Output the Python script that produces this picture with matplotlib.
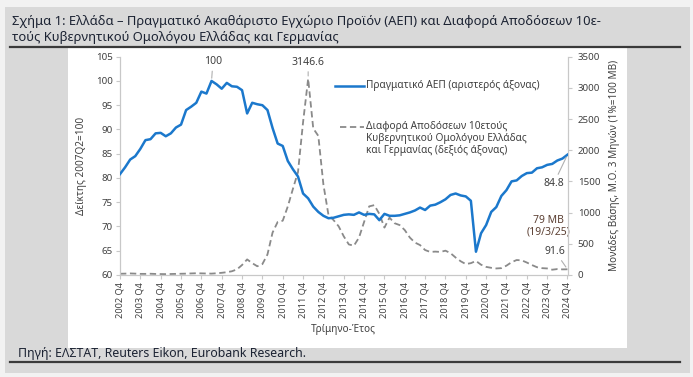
import numpy as np
import matplotlib
matplotlib.use("Agg")
import matplotlib.pyplot as plt
from matplotlib.patches import Rectangle
from matplotlib.lines import Line2D

plt.rcParams['font.family'] = ['Noto Sans', 'DejaVu Sans']

## data: quarterly, 2002Q4 .. 2024Q4
years = list(range(2002, 2025))
tick_labels = [f"{y} Q4" for y in years]

gdp = [80.8, 82.2, 83.8, 84.5, 86.0, 87.8, 88.0, 89.2, 89.3, 88.6,
       89.2, 90.4, 91.0, 94.0, 94.7, 95.5, 97.8, 97.4, 100.0, 99.3,
       98.4, 99.6, 98.9, 98.8, 98.1, 93.3, 95.5, 95.2, 95.0, 94.0,
       90.3, 87.1, 86.6, 83.5, 81.8, 80.3, 76.8, 75.8, 74.1, 73.0,
       72.2, 71.7, 71.8, 72.1, 72.4, 72.5, 72.4, 72.9, 72.4, 72.6,
       72.5, 71.3, 72.6, 72.2, 72.2, 72.3, 72.6, 72.9, 73.3, 73.9,
       73.4, 74.3, 74.5, 75.0, 75.6, 76.5, 76.8, 76.4, 76.2, 75.3,
       64.8, 68.6, 70.3, 73.0, 74.0, 76.3, 77.5, 79.3, 79.5, 80.4,
       81.0, 81.1, 82.0, 82.2, 82.7, 82.9, 83.6, 84.0, 84.8]

spread = [20, 22, 25, 22, 18, 18, 20, 17, 15, 14,
          16, 18, 20, 22, 25, 28, 26, 24, 22, 28,
          35, 45, 60, 90, 160, 250, 190, 140, 175, 330,
          680, 850, 870, 1100, 1380, 1650, 2450, 3146.6, 2350, 2230,
          1450, 960, 880, 780, 620, 490, 470, 600, 850, 1100,
          1120, 980, 760, 920, 830, 800, 720, 600, 520, 480,
          400, 370, 375, 370, 390, 350, 280, 220, 175, 190,
          225, 165, 130, 115, 105, 110, 150, 205, 240, 235,
          200, 160, 125, 110, 105, 85, 95, 90, 91.6]

gdp_label = "Πραγματικό ΑΕΠ (αριστερός άξονας)"
spread_label = ["Διαφορά Αποδόσεων 10ετούς",
                "Κυβερνητικού Ομολόγου Ελλάδας",
                "και Γερμανίας (δεξιός άξονας)"]

q = np.arange(len(gdp))

W, H = 693, 377
fig = plt.figure(figsize=(W / 100, H / 100), dpi=100)
fig.patch.set_facecolor('#f2f2f2')

def fx(px):
    return px / W

def fy(py):
    return 1 - py / H

# grey panel, white chart box, rules
fig.add_artist(Rectangle((fx(5), fy(373)), fx(685), 366 / H, transform=fig.transFigure,
                         facecolor='#d9d9d9', edgecolor='none', zorder=-3))
fig.add_artist(Rectangle((fx(68), fy(348)), fx(559), 301 / H, transform=fig.transFigure,
                         facecolor='white', edgecolor='none', zorder=-2))
for yy in (47, 362):
    fig.add_artist(Line2D([fx(10), fx(680)], [fy(yy), fy(yy)], transform=fig.transFigure,
                          color='#3a3a3a', lw=1.6, zorder=-1))

fig.text(fx(12), fy(22), "Σχήμα 1: Ελλάδα – Πραγματικό Ακαθάριστο Εγχώριο Προϊόν (ΑΕΠ) και Διαφορά Αποδόσεων 10ε-",
         fontsize=9.35, color='#1c2333', va='center')
fig.text(fx(12), fy(38), "τούς Κυβερνητικού Ομολόγου Ελλάδας και Γερμανίας",
         fontsize=9.35, color='#1c2333', va='center')
fig.text(fx(18), fy(354), "Πηγή: ΕΛΣΤΑΤ, Reuters Eikon, Eurobank Research.",
         fontsize=8.9, color='#1c2333', va='center')

ax = fig.add_axes([fx(119.5), fy(275), (568 - 119.5) / W, (275 - 56.7) / H])
ax.set_facecolor('none')
ax2 = ax.twinx()

blue = '#1b78cc'
grey = '#8a8a8a'
axc = '#c8c8c8'
txt = '#404040'
dash = (0, (3.5, 2))

ax.plot(q, gdp, color=blue, lw=1.8, zorder=3, solid_joinstyle='round')
ax2.plot(q, spread, color=grey, lw=1.3, ls=dash, zorder=2)
ax.set_zorder(ax2.get_zorder() + 1)
ax.patch.set_visible(False)

ax.set_xlim(-0.1, len(q) - 0.9)
ax.set_ylim(60, 105)
ax2.set_ylim(0, 3500)
ax.set_yticks(np.arange(60, 106, 5))
ax2.set_yticks(np.arange(0, 3501, 500))
ax.set_xticks(q[::4])
ax.set_xticklabels(tick_labels, rotation=90, fontsize=6.6, color=txt)

for a in (ax, ax2):
    for s in a.spines.values():
        s.set_color(axc)
        s.set_linewidth(0.8)
    a.spines['top'].set_visible(False)
    a.tick_params(colors=axc, labelcolor=txt, labelsize=7, length=3, width=0.8)
ax.tick_params(axis='x', labelsize=6.6, pad=2)
ax.tick_params(axis='y', pad=2)
ax2.tick_params(axis='y', pad=4)

ax.set_ylabel("Δείκτης 2007Q2=100", fontsize=7.2, color=txt, labelpad=6)
ax2.set_ylabel("Μονάδες Βάσης, Μ.Ο. 3 Μηνών (1%=100 MB)", fontsize=7.2, color=txt, labelpad=6)
ax.set_xlabel("Τρίμηνο-Έτος", fontsize=7.2, color=txt, labelpad=4)

# annotations
lead = dict(arrowstyle='-', color='#b0b0b0', lw=0.8, shrinkA=1, shrinkB=2)
i_max = int(np.argmax(gdp))
ax.annotate("100", xy=(q[i_max], gdp[i_max]), xytext=(1, 14), textcoords='offset points',
            ha='center', va='center', fontsize=7.5, color=txt, arrowprops=lead)
j_max = int(np.argmax(spread))
ax2.annotate(f"{spread[j_max]:.1f}", xy=(q[j_max], spread[j_max]), xytext=(0, 12),
             textcoords='offset points', ha='center', va='center', fontsize=7.5, color=txt,
             arrowprops=lead)
ax.annotate(f"{gdp[-1]:.1f}", xy=(q[-1], gdp[-1]), xytext=(-10, -21), textcoords='offset points',
            ha='center', va='center', fontsize=7.5, color=txt, arrowprops=lead)
ax2.annotate(f"{spread[-1]:.1f}", xy=(q[-1], spread[-1]), xytext=(-9, 13), textcoords='offset points',
             ha='center', va='center', fontsize=7.5, color=txt, arrowprops=lead)
ax2.annotate("79 MB\n(19/3/25)", xy=(q[-1], spread[-1]), xytext=(-14, 31), textcoords='offset points',
             ha='center', va='center', fontsize=7.5, color='#5c4033', fontweight='semibold',
             linespacing=1.1)

# legend drawn by hand so the dashed key sits on the first text line
tr = ax.transAxes
ax.add_line(Line2D([0.480, 0.545], [0.866, 0.866], transform=tr, color=blue, lw=1.8))
ax.text(0.549, 0.866, gdp_label, transform=tr, fontsize=7.3, color=txt, va='center')
ax.add_line(Line2D([0.491, 0.545], [0.678, 0.678], transform=tr, color=grey, lw=1.3, ls=dash))
for k, line in enumerate(spread_label):
    ax.text(0.549, 0.678 - k * 0.054, line, transform=tr, fontsize=7.3, color=txt, va='center')

fig.savefig('out.png', dpi=100, facecolor=fig.get_facecolor())
